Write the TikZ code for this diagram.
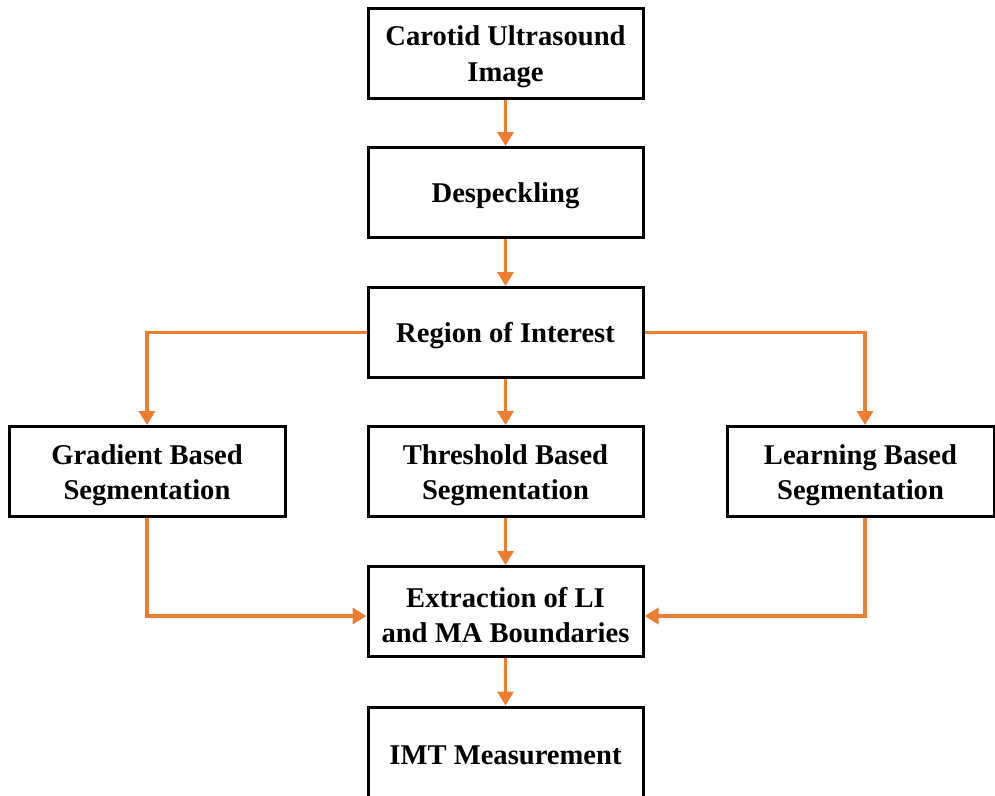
\documentclass[tikz,border=0pt]{standalone}
\usepackage{fontspec}
\setmainfont{Liberation Serif}
\usetikzlibrary{arrows.meta}
\definecolor{arr}{HTML}{ED7D31}
\begin{document}
\begin{tikzpicture}[x=1pt,y=-1pt,
  box/.style={draw=black,line width=3pt,fill=white,minimum width=275pt,minimum height=90pt,inner sep=0pt,
    label={[txt]center:#1}},
  txt/.style={align=center,inner sep=0pt,yshift=-3.5pt,font=\fontsize{28.6}{35.5}\selectfont\bfseries},
  flow/.style={draw=arr,line width=3.8pt,-{Triangle[width=16pt,length=14pt]}}]
\useasboundingbox (0,0) rectangle (995,795);
\node[box={Carotid Ultrasound\\Image}] (cui) at (505.5,53) {};
\node[box={Despeckling}] (desp) at (505.5,192.5) {};
\node[box={Region of Interest}] (roi) at (505.5,332.5) {};
\node[box={Gradient Based\\Segmentation},minimum width=276pt] (grad) at (147,471.5) {};
\node[box={Threshold Based\\Segmentation}] (thr) at (505.5,471.5) {};
\node[box={Learning Based\\Segmentation},minimum width=267pt] (learn) at (860.5,471.5) {};
\node[box={Extraction of LI\\and MA Boundaries}] (ext) at (505.5,611.5) {};
\node[box={IMT Measurement}] (imt) at (505.5,752) {};
\draw[flow] (cui) -- (desp);
\draw[flow] (desp) -- (roi);
\draw[flow] (roi) -- (thr);
\draw[flow] (thr) -- (ext);
\draw[flow] (ext) -- (imt);
\draw[flow] (roi.west) -| (grad.north);
\draw[flow] (roi.east) -| ([xshift=4.5pt]learn.north);
\draw[flow] (grad.south) |- ([yshift=-4.5pt]ext.west);
\draw[flow] ([xshift=4.5pt]learn.south) |- ([yshift=-4.5pt]ext.east);
\end{tikzpicture}
\end{document}
